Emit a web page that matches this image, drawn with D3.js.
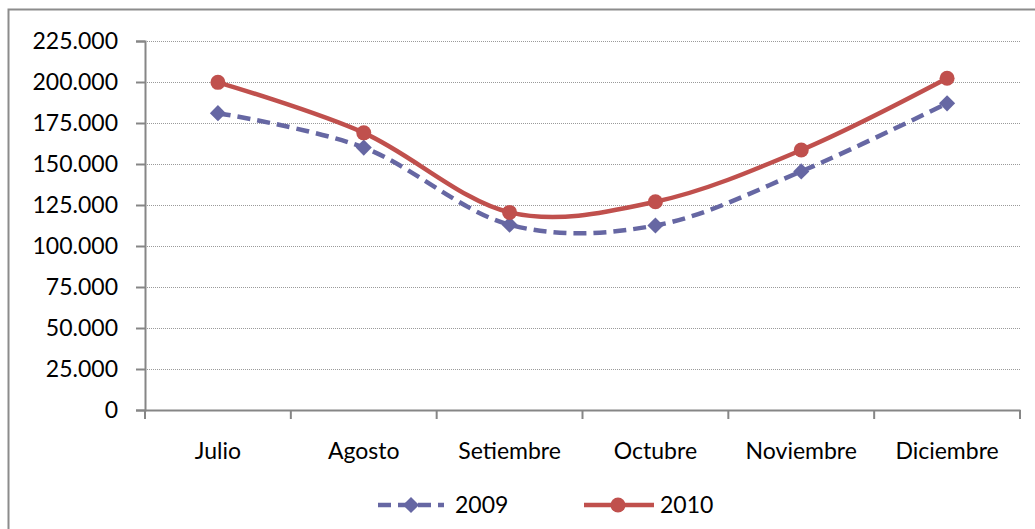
<!DOCTYPE html>
<html>
<head>
<meta charset="utf-8">
<script src="https://cdn.jsdelivr.net/npm/d3@7"></script>
<style>
  body { margin: 0; background: #fff; }
  svg { display: block; font-family: Lato, "Open Sans", sans-serif; }
</style>
</head>
<body>
<svg id="chart" width="1035" height="529"></svg>
<script>
const months = ["Julio", "Agosto", "Setiembre", "Octubre", "Noviembre", "Diciembre"];
const values2009 = [181000, 160000, 113000, 112500, 145500, 187000];
const values2010 = [199800, 169000, 120500, 127000, 158500, 202300];
const yTicks = [0, 25000, 50000, 75000, 100000, 125000, 150000, 175000, 200000, 225000];

const margin = { top: 41, left: 145, right: 15, bottom: 119 };
const width = 1035 - margin.left - margin.right;   // 875
const height = 529 - margin.top - margin.bottom;   // 369
const fontSize = 23;

const svg = d3.select("#chart");

// outer chart border (runs off the right/bottom edge)
svg.append("rect")
    .attr("x", 8.5).attr("y", 9.5)
    .attr("width", 1100).attr("height", 600)
    .attr("fill", "none")
    .attr("stroke", "#8c8c8c")
    .attr("stroke-width", 2);

const g = svg.append("g")
    .attr("transform", `translate(${margin.left},${margin.top})`);

const x = d3.scaleBand().domain(months).range([0, width]);
const y = d3.scaleLinear().domain([0, 225000]).range([height, 0]);

const fmt = v => v === 0 ? "0" : d3.format(",.0f")(v).replace(/,/g, ".");

// gridlines
g.append("g")
    .selectAll("line")
    .data(yTicks.filter(d => d > 0))
    .join("line")
    .attr("x1", 0).attr("x2", width)
    .attr("y1", d => Math.round(y(d)) + 0.5)
    .attr("y2", d => Math.round(y(d)) + 0.5)
    .attr("stroke", "#9a9a9a")
    .attr("stroke-width", 1)
    .attr("stroke-dasharray", "1,1");

// y axis
const yAxis = g.append("g")
    .call(d3.axisLeft(y).tickValues(yTicks).tickFormat(fmt).tickSize(9).tickPadding(18));
yAxis.select(".domain").attr("stroke", "#868686").attr("stroke-width", 2);
yAxis.selectAll(".tick line").attr("stroke", "#868686").attr("stroke-width", 2);
yAxis.selectAll(".tick text")
    .attr("font-size", fontSize)
    .attr("font-family", "Lato, sans-serif")
    .attr("fill", "#000");

// x axis
const xAxis = g.append("g")
    .attr("transform", `translate(0,${height})`)
    .call(d3.axisBottom(x).tickSize(0).tickPadding(33));
xAxis.select(".domain").attr("stroke", "#868686").attr("stroke-width", 2);
xAxis.selectAll(".tick text")
    .attr("font-size", fontSize)
    .attr("font-family", "Lato, sans-serif")
    .attr("fill", "#000");

// category boundary ticks
const bounds = months.map(m => x(m)).concat([width]);
g.append("g")
    .selectAll("line")
    .data(bounds)
    .join("line")
    .attr("x1", d => d).attr("x2", d => d)
    .attr("y1", height).attr("y2", height + 9)
    .attr("stroke", "#868686")
    .attr("stroke-width", 2);

const cx = (d, i) => x(months[i]) + x.bandwidth() / 2;

const line = d3.line()
    .x((d, i) => cx(d, i))
    .y(d => y(d))
    .curve(d3.curveCardinal.tension(0));

const blue = "#6667a3";
const red = "#c0504d";

// 2009 series
g.append("path")
    .datum(values2009)
    .attr("d", line)
    .attr("fill", "none")
    .attr("stroke", blue)
    .attr("stroke-width", 4.5)
    .attr("stroke-dasharray", "13,7");

// square marker rotated 45deg -> even diamond
const diamond = d3.symbol().type(d3.symbolSquare).size(130);
g.append("g")
    .selectAll("path")
    .data(values2009)
    .join("path")
    .attr("d", diamond)
    .attr("transform", (d, i) => `translate(${cx(d, i)},${y(d)}) rotate(45)`)
    .attr("fill", blue);

// 2010 series
g.append("path")
    .datum(values2010)
    .attr("d", line)
    .attr("fill", "none")
    .attr("stroke", red)
    .attr("stroke-width", 4.5);

g.append("g")
    .selectAll("circle")
    .data(values2010)
    .join("circle")
    .attr("cx", (d, i) => cx(d, i))
    .attr("cy", d => y(d))
    .attr("r", 7.5)
    .attr("fill", red);

// legend
const legend = svg.append("g").attr("font-size", fontSize);
const lg1 = legend.append("g").attr("transform", "translate(378,505)");
lg1.append("line")
    .attr("x1", 0).attr("x2", 66).attr("y1", 0).attr("y2", 0)
    .attr("stroke", blue).attr("stroke-width", 4.5)
    .attr("stroke-dasharray", "13,7");
lg1.append("path")
    .attr("d", diamond)
    .attr("transform", "translate(33,0) rotate(45)")
    .attr("fill", blue);
lg1.append("text")
    .attr("x", 77).attr("y", 8)
    .text("2009");

const lg2 = legend.append("g").attr("transform", "translate(584,505)");
lg2.append("line")
    .attr("x1", 0).attr("x2", 70).attr("y1", 0).attr("y2", 0)
    .attr("stroke", red).attr("stroke-width", 4.5);
lg2.append("circle")
    .attr("cx", 34).attr("cy", 0).attr("r", 7.5)
    .attr("fill", red);
lg2.append("text")
    .attr("x", 76).attr("y", 8)
    .text("2010");
</script>
</body>
</html>
